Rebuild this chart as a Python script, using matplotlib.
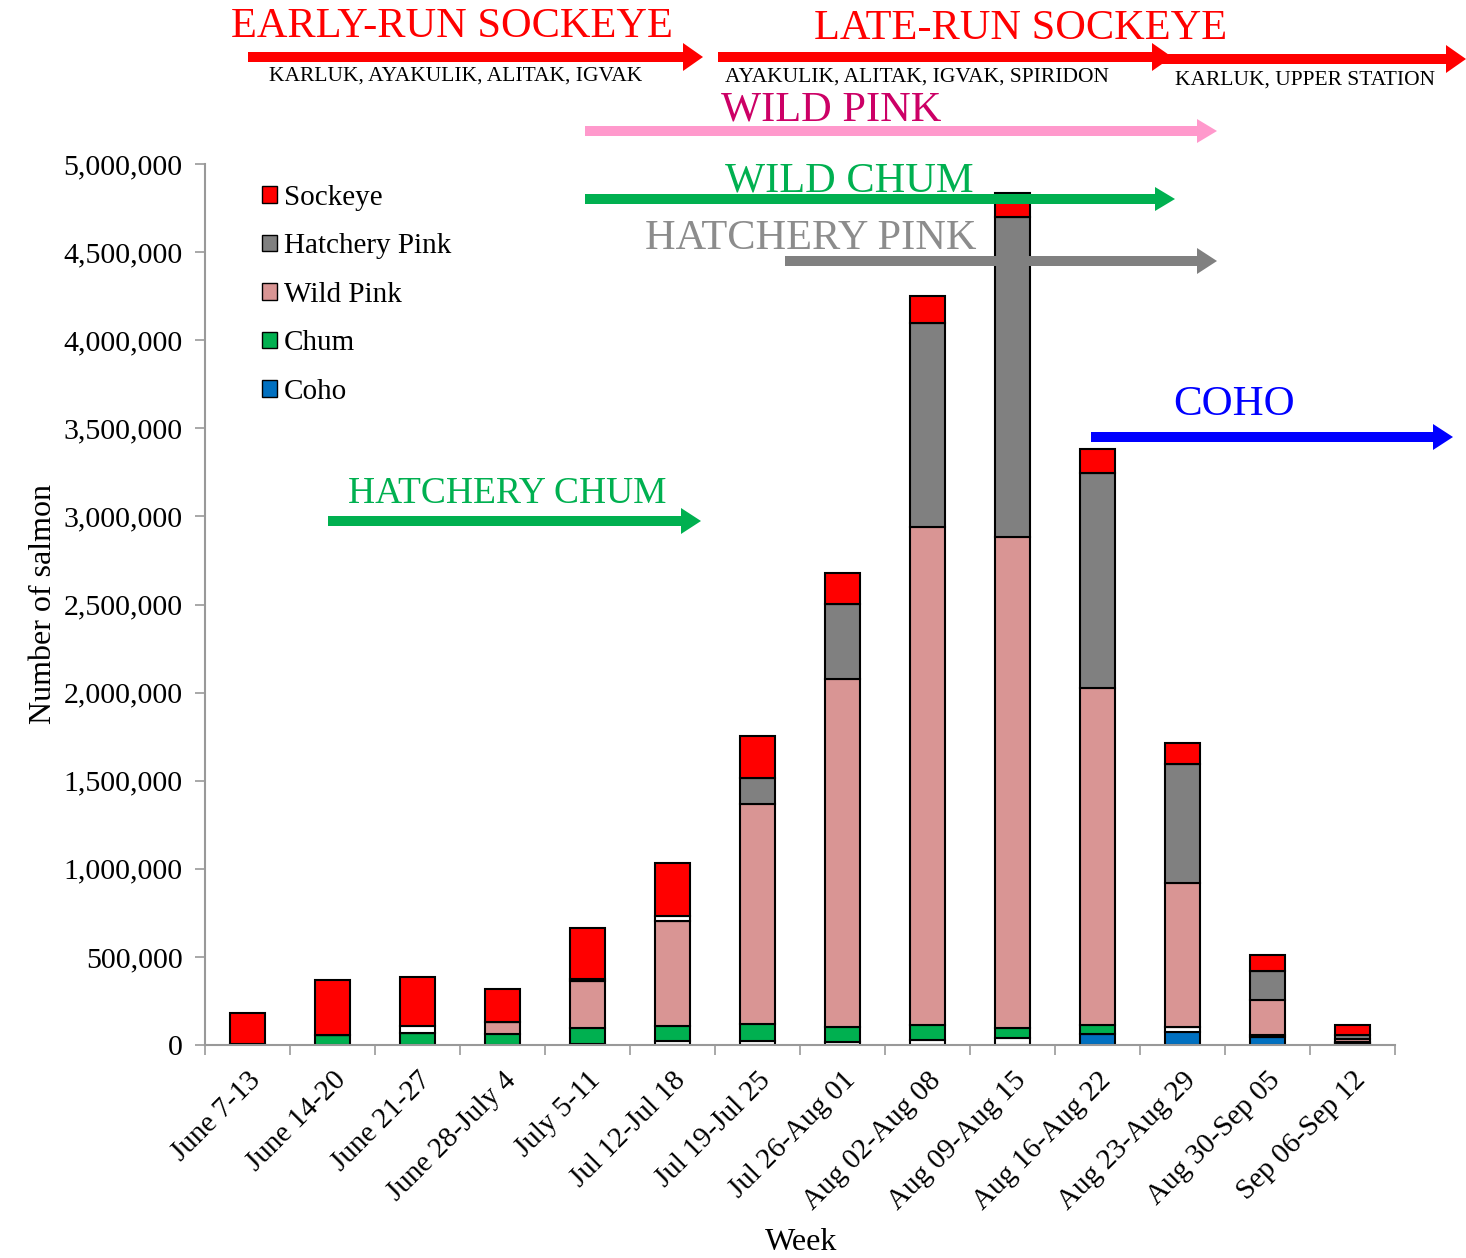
import numpy as np
import matplotlib
matplotlib.use('Agg')
import matplotlib.pyplot as plt
from matplotlib.patches import FancyArrow, Patch
from matplotlib.transforms import IdentityTransform
from matplotlib.ticker import FuncFormatter

plt.rcParams['font.family'] = ['Liberation Serif', 'DejaVu Serif']

weeks = ['June 7-13', 'June 14-20', 'June 21-27', 'June 28-July 4', 'July 5-11',
         'Jul 12-Jul 18', 'Jul 19-Jul 25', 'Jul 26-Aug 01', 'Aug 02-Aug 08',
         'Aug 09-Aug 15', 'Aug 16-Aug 22', 'Aug 23-Aug 29', 'Aug 30-Sep 05',
         'Sep 06-Sep 12']

coho = [0, 0, 0, 0, 0, 0, 0, 0, 0, 0, 62000, 74000, 45000, 8000]
other_low = [0, 0, 0, 0, 8000, 20000, 20000, 17000, 28000, 40000, 0, 28000, 0, 5000]
chum = [5000, 55000, 68000, 62000, 90000, 85000, 102000, 85000, 85000, 57000, 51000, 0, 12000, 5000]
wild_pink = [0, 0, 0, 68000, 267000, 600000, 1248000, 1975000, 2826000, 2786000,
             1912000, 817000, 198000, 15000]
hatchery_pink = [0, 0, 0, 0, 0, 0, 148000, 426000, 1158000, 1816000, 1220000,
                 675000, 165000, 25000]
other_high = [0, 0, 40000, 0, 10000, 28000, 0, 0, 0, 0, 0, 0, 0, 0]
sockeye = [175000, 312000, 278000, 187000, 290000, 300000, 233000, 176000, 153000,
           136000, 136000, 119000, 91000, 57000]

W, H = 1466, 1258
fig = plt.figure(figsize=(W / 100, H / 100), dpi=100)
ax = fig.add_axes([205 / W, 1 - 1045 / H, (1395 - 205) / W, (1045 - 164) / H])

x = np.arange(len(weeks))
series = [(coho, '#0070C0'), (other_low, 'white'), (chum, '#00B050'),
          (wild_pink, '#D99594'), (hatchery_pink, '#808080'),
          (other_high, 'white'), (sockeye, '#FF0000')]
bottom = np.zeros(len(weeks))
for vals, col in series:
    vals = np.array(vals, dtype=float)
    ax.bar(x, vals, 0.41, bottom=bottom, color=col, edgecolor='black', linewidth=1.5)
    bottom += vals

ax.set_xlim(-0.5, len(weeks) - 0.5)
ax.set_ylim(0, 5000000)
ax.set_yticks(np.arange(0, 5000001, 500000))
ax.yaxis.set_major_formatter(FuncFormatter(lambda v, p: '{:,.0f}'.format(v)))
ax.set_xticks(x)
ax.set_xticklabels(weeks, rotation=45, ha='right', rotation_mode='anchor', fontsize=21)
ax.set_xticks(np.arange(-0.5, len(weeks), 1), minor=True)
ax.tick_params(axis='x', which='major', length=0, pad=16)
ax.tick_params(axis='x', which='minor', length=7, width=1.2, color='#999999', direction='out')
ax.tick_params(axis='y', length=7, width=1.2, color='#999999', labelsize=21.5, pad=9)
for s in ['top', 'right']:
    ax.spines[s].set_visible(False)
for s in ['left', 'bottom']:
    ax.spines[s].set_color('#999999')
    ax.spines[s].set_linewidth(1.5)
ax.set_ylabel('Number of salmon', fontsize=23, labelpad=4)
fig.text(801 / W, 1 - 1242 / H, 'Week', fontsize=23, ha='center', va='center')

handles = [Patch(facecolor='#FF0000', edgecolor='black', label='Sockeye'),
           Patch(facecolor='#808080', edgecolor='black', label='Hatchery Pink'),
           Patch(facecolor='#D99594', edgecolor='black', label='Wild Pink'),
           Patch(facecolor='#00B050', edgecolor='black', label='Chum'),
           Patch(facecolor='#0070C0', edgecolor='black', label='Coho')]
ax.legend(handles=handles, loc='upper left', bbox_to_anchor=(262 / W, 1 - 185 / H),
          bbox_transform=fig.transFigure, frameon=False, fontsize=21,
          handlelength=0.5, handleheight=0.5, handletextpad=0.25, labelspacing=0.77,
          borderpad=0, borderaxespad=0)


def arrow(x1, x2, y, col, shaft=10, head=28, hl=20):
    fig.add_artist(FancyArrow(x1, H - y, x2 - x1, 0, width=shaft, head_width=head,
                              head_length=hl, length_includes_head=True, color=col,
                              transform=IdentityTransform(), linewidth=0))


def label(xc, y, s, col, size, ha='center'):
    fig.text(xc / W, 1 - y / H, s, color=col, fontsize=size, ha=ha, va='center')


label(452, 27, 'EARLY-RUN SOCKEYE', '#FF0000', 30.5)
arrow(248, 703, 57, '#FF0000')
label(456, 76, 'KARLUK, AYAKULIK, ALITAK, IGVAK', 'black', 15.5)

label(1021, 29, 'LATE-RUN SOCKEYE', '#FF0000', 30.5)
arrow(718, 1172, 57, '#FF0000')
arrow(1155, 1466, 59, '#FF0000')
label(725, 77, 'AYAKULIK, ALITAK, IGVAK, SPIRIDON', 'black', 15.5, ha='left')
label(1175, 80, 'KARLUK, UPPER STATION', 'black', 15.5, ha='left')

label(831, 110, 'WILD PINK', '#CC0066', 30.5)
arrow(585, 1217, 131, '#FF99CC', head=24)

label(849, 181, 'WILD CHUM', '#00B050', 30.5)
arrow(585, 1175, 199, '#00B050', head=24)

label(811, 239, 'HATCHERY PINK', '#8C8C8C', 30.5)
arrow(785, 1217, 261, '#808080', head=26)

label(1234, 405, 'COHO', '#0000FF', 31)
arrow(1091, 1453, 437, '#0000FF', head=26)

label(507, 494, 'HATCHERY CHUM', '#00B050', 27)
arrow(328, 701, 521, '#00B050', head=26)

fig.savefig('out.png', dpi=100)
